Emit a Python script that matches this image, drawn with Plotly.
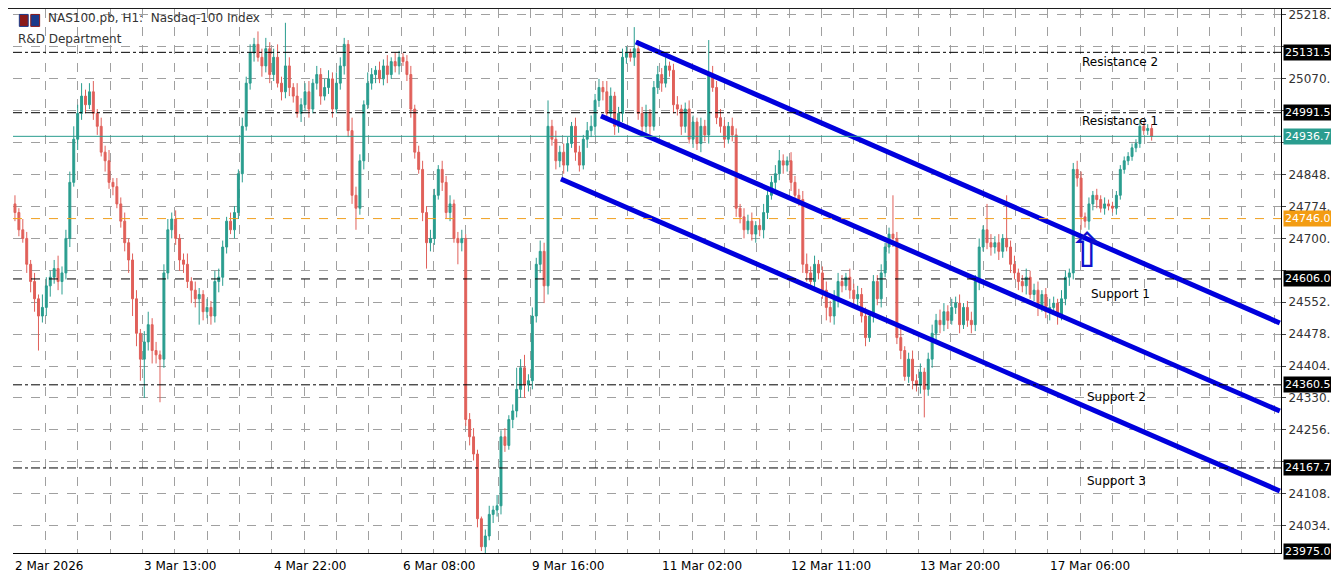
import plotly.graph_objects as go

closes = [
 24760,24720,24700,24640,24600,24560,24520,24540,24590,24610,
 24630,24600,24620,24700,24830,24930,24990,25030,25010,25040,
 24990,24960,24900,24880,24830,24820,24780,24740,24690,24650,
 24560,24480,24420,24460,24500,24440,24430,24420,24620,24720,
 24745,24700,24650,24640,24600,24580,24560,24570,24530,24540,
 24520,24600,24610,24680,24740,24720,24760,24850,24960,25060,
 25130,25150,25120,25100,25140,25080,25120,25060,25040,25100,
 25050,25030,24990,25010,25040,25000,25060,25080,25030,25050,
 25070,25000,25060,25100,25150,24950,24800,24770,24880,25010,
 25060,25080,25090,25070,25100,25080,25110,25100,25120,25110,
 25080,25000,24900,24860,24760,24690,24700,24800,24860,24830,
 24760,24780,24700,24690,24700,24280,24240,24200,24050,23985,
 24010,24060,24070,24080,24240,24220,24280,24300,24350,24400,
 24360,24370,24520,24640,24670,24590,24960,24930,24880,24900,
 24870,24920,24960,24900,24870,24930,24950,24960,25020,25050,
 25040,24990,25030,24960,24990,25120,25130,25120,25140,24990,
 24960,24990,24960,25050,25080,25060,25100,25090,25010,25000,
 24960,25000,24930,24970,24920,24960,24940,25080,25050,24980,
 24960,24930,24960,24940,24770,24750,24720,24740,24710,24730,
 24720,24760,24800,24830,24850,24880,24870,24880,24830,24800,
 24790,24640,24620,24600,24640,24620,24580,24540,24520,24560,
 24600,24590,24610,24580,24560,24570,24520,24470,24520,24600,
 24560,24620,24680,24710,24700,24470,24440,24380,24420,24370,
 24360,24390,24350,24420,24480,24510,24500,24530,24510,24540,
 24550,24500,24540,24510,24500,24600,24680,24720,24690,24680,
 24690,24670,24700,24680,24640,24620,24600,24590,24610,24570,
 24580,24540,24570,24530,24540,24550,24520,24560,24610,24620,
 24860,24840,24750,24740,24780,24800,24790,24770,24780,24775,
 24770,24800,24860,24880,24890,24910,24920,24960,24950,24955,
 24936.7]
upper_wick = [
 20,10,25,15,10,20,10,30,20,15, 20,30,15,20,25,30,20,30,15,20,
 25,10,20,15,25,10,20,15,20,10, 15,20,10,25,30,15,20,10,20,25,
 15,20,10,15,25,10,20,15,10,20, 15,25,20,15,10,20,15,10,20,15,
 20,15,30,20,25,15,20,30,15,100, 20,10,30,15,20,25,10,20,15,20,
 20,15,25,20,15,10,30,20,15,10, 25,15,10,20,15,25,10,20,15,10,
 15,20,10,15,20,15,20,15,10,20, 15,20,10,15,20,10,15,20,10,5,
 15,20,10,25,15,20,10,15,50,20, 30,15,20,15,25,20,60,15,20,15,
 20,15,10,20,15,10,20,25,15,20, 15,25,20,10,15,20,15,10,50,20,
 15,20,10,15,20,15,20,10,15,20, 10,15,20,15,10,20,15,80,20,15,
 20,15,10,20,15,10,20,15,20,10, 15,20,10,15,20,25,15,10,20,15,
 15,20,25,15,20,10,15,20,15,20, 20,15,10,20,15,20,15,20,10,15,
 15,20,10,15,90,15,20,10,15,20, 15,20,10,15,20,15,25,20,15,20,
 15,20,10,15,20,15,20,10,60,20, 15,20,10,100,15,20,10,15,20,15,
 15,20,10,15,20,15,10,20,15,10, 15,20,15,10,15,10,15,10,15,10,
 10,10,10,10,10,10,10,15,10,10, 10]
lower_wick = [
 20,15,10,20,25,30,80,15,20,25, 15,20,30,15,20,10,25,15,20,10,
 15,20,10,25,15,20,10,15,20,30, 40,30,50,90,20,30,20,100,20,15,
 20,15,25,20,15,30,20,60,20,15, 20,15,25,20,15,10,20,15,20,10,
 15,20,10,25,15,20,15,10,20,15, 20,15,10,20,15,20,10,15,20,10,
 15,20,10,15,20,15,20,50,15,20, 10,15,20,10,15,20,10,15,20,10,
 15,20,15,10,20,60,20,15,10,20, 15,20,10,50,20,15,20,15,20,10,
 15,10,20,15,20,15,10,20,15,20, 30,15,20,15,20,40,20,15,20,15,
 20,15,10,20,15,10,20,15,20,15, 20,15,10,20,15,20,15,10,20,15,
 20,15,20,10,15,20,10,15,20,15, 20,15,10,20,15,20,15,20,10,15,
 15,20,10,15,20,15,20,10,15,20, 15,20,15,10,20,15,20,15,20,10,
 15,20,20,15,20,15,20,30,15,20, 20,15,10,20,15,20,15,20,10,15,
 15,20,10,15,20,15,20,10,15,20, 15,20,65,15,20,15,20,15,20,10,
 15,20,10,15,20,15,20,10,15,20, 15,20,15,10,20,15,20,15,20,10,
 15,20,10,15,20,15,20,10,15,20, 15,20,30,15,20,15,20,10,15,10,
 10,15,10,10,10,10,10,10,10,10, 10]

x_labels = ["2 Mar 2026", "3 Mar 13:00", "4 Mar 22:00", "6 Mar 08:00", "9 Mar 16:00",
            "11 Mar 02:00", "12 Mar 11:00", "13 Mar 20:00", "17 Mar 06:00"]
x_label_idx = [0, 33, 66, 99, 132, 165, 198, 231, 264]

y_ticks = [24034.1, 24108.1, 24182.1, 24256.1, 24330.1, 24404.1, 24478.1, 24552.1,
           24626.1, 24700.1, 24774.1, 24848.1, 24922.1, 24996.1, 25070.1, 25144.1, 25218.1]
hidden_tick_labels = [24182.1, 24626.1, 24922.1, 24996.1, 25144.1]

levels = [25131.5, 24991.5, 24606.0, 24360.5, 24167.7]
level_names = ["Resistance 2", "Resistance 1", "Support 1", "Support 2", "Support 3"]
level_dash = ["dashdot", "dashdot", "dash", "dashdot", "dashdot"]
current_price = 24936.7
orange_level = 24746.0
bottom_level = 23975.0

channels = [  # (x0, y0, x1, y1)
    (158.4, 25155.5, 322.7, 24503.9),
    (149.5, 24983.9, 322.7, 24299.8),
    (139.3, 24837.8, 322.7, 24114.3),
]

n = len(closes)
opens = [closes[0] + 20] + closes[:-1]
highs = [max(o, c) + w for o, c, w in zip(opens, closes, upper_wick)]
lows = [min(o, c) - w for o, c, w in zip(opens, closes, lower_wick)]

fig = go.Figure(go.Candlestick(
    x=list(range(n)), open=opens, high=highs, low=lows, close=closes,
    increasing=dict(line=dict(color="#2a9d8f", width=1), fillcolor="#2a9d8f"),
    decreasing=dict(line=dict(color="#e0605a", width=1), fillcolor="#e0605a"),
    whiskerwidth=0, showlegend=False, hoverinfo="skip"))

for (x0, y0, x1, y1) in channels:
    fig.add_trace(go.Scatter(x=[x0, x1], y=[y0, y1], mode="lines",
                             line=dict(color="#0000dd", width=5), showlegend=False, hoverinfo="skip"))

lab_font = dict(color="white", size=11, family="DejaVu Sans")
def price_box(y, text, bg):
    fig.add_annotation(x=1.0, xref="paper", y=y, yref="y", text=text, xanchor="left", showarrow=False,
                       bgcolor=bg, font=lab_font, borderpad=1, xshift=2)

for lv, nm, ds in zip(levels, level_names, level_dash):
    fig.add_hline(y=lv, line=dict(color="black", width=1, dash=ds))
    price_box(lv, f"{lv:.1f}", "black")
fig.add_hline(y=current_price, line=dict(color="#2a9d8f", width=1))
price_box(current_price, f"{current_price:.1f}", "#2a9d8f")
fig.add_hline(y=orange_level, line=dict(color="#f0a020", width=1, dash="dash"))
price_box(orange_level, f"{orange_level:.1f}", "#f39c12")
price_box(bottom_level, f"{bottom_level:.1f}", "black")

name_pos = [(282, 25108), (282, 24972), (282, 24572), (281, 24332), (281, 24138)]
for (px, py), nm in zip(name_pos, level_names):
    fig.add_annotation(x=px, y=py, text=nm, showarrow=False, font=dict(color="black", size=12, family="DejaVu Sans"))

fig.add_annotation(x=273.5, y=24672, text="⇧", showarrow=False,
                   font=dict(color="#1010cc", size=48, family="DejaVu Sans"))

for idx, lab in zip(x_label_idx, x_labels):
    fig.add_annotation(x=idx - 0.5, y=0, yref="paper", text=lab, xanchor="left", yanchor="top",
                       yshift=-4, showarrow=False, font=dict(color="black", size=12, family="DejaVu Sans"))

fig.add_annotation(x=0.026, y=1.0, xref="paper", yref="paper", xanchor="left", yanchor="top",
                   text="NAS100.pb, H1:  Nasdaq-100 Index", showarrow=False,
                   font=dict(color="#333", size=12, family="DejaVu Sans"))
fig.add_annotation(x=0.002, y=0.962, xref="paper", yref="paper", xanchor="left", yanchor="top",
                   text="R&D Department", showarrow=False, font=dict(color="#333", size=12, family="DejaVu Sans"))
fig.add_shape(type="rect", xref="paper", yref="paper", x0=0.005, x1=0.012, y0=0.968, y1=0.99,
              fillcolor="#8b1a1a", line=dict(color="#1a3a8b", width=1))
fig.add_shape(type="rect", xref="paper", yref="paper", x0=0.014, x1=0.021, y0=0.968, y1=0.99,
              fillcolor="#1a3a8b", line=dict(color="#8b1a1a", width=1))
fig.add_shape(type="rect", xref="paper", yref="paper", x0=-0.01, x1=1.06, y0=1.0, y1=1.012,
              fillcolor="#1e1e1e", line=dict(width=0), layer="above")

fig.update_layout(
    width=1339, height=579, margin=dict(l=5, r=66, t=1, b=34),
    paper_bgcolor="white", plot_bgcolor="white",
    font=dict(family="DejaVu Sans", size=11, color="black"),
    xaxis=dict(range=[-0.5, 323], rangeslider=dict(visible=False), showticklabels=False,
               tickmode="linear", tick0=-0.5, dtick=8.25, showgrid=True,
               gridcolor="#a0a0a0", griddash="dash", gridwidth=1,
               showline=True, linecolor="black", mirror=False, zeroline=False),
    yaxis=dict(side="right", range=[23970.5, 25232], tickvals=y_ticks,
               ticktext=["" if v in hidden_tick_labels else f"{v:.1f}" for v in y_ticks],
               ticks="outside", ticklen=4,
               showgrid=True, gridcolor="#a0a0a0", griddash="dash", gridwidth=1,
               showline=True, linecolor="black", zeroline=False,
               tickfont=dict(size=12, color="#333")),
)
fig.write_html("out.html")
